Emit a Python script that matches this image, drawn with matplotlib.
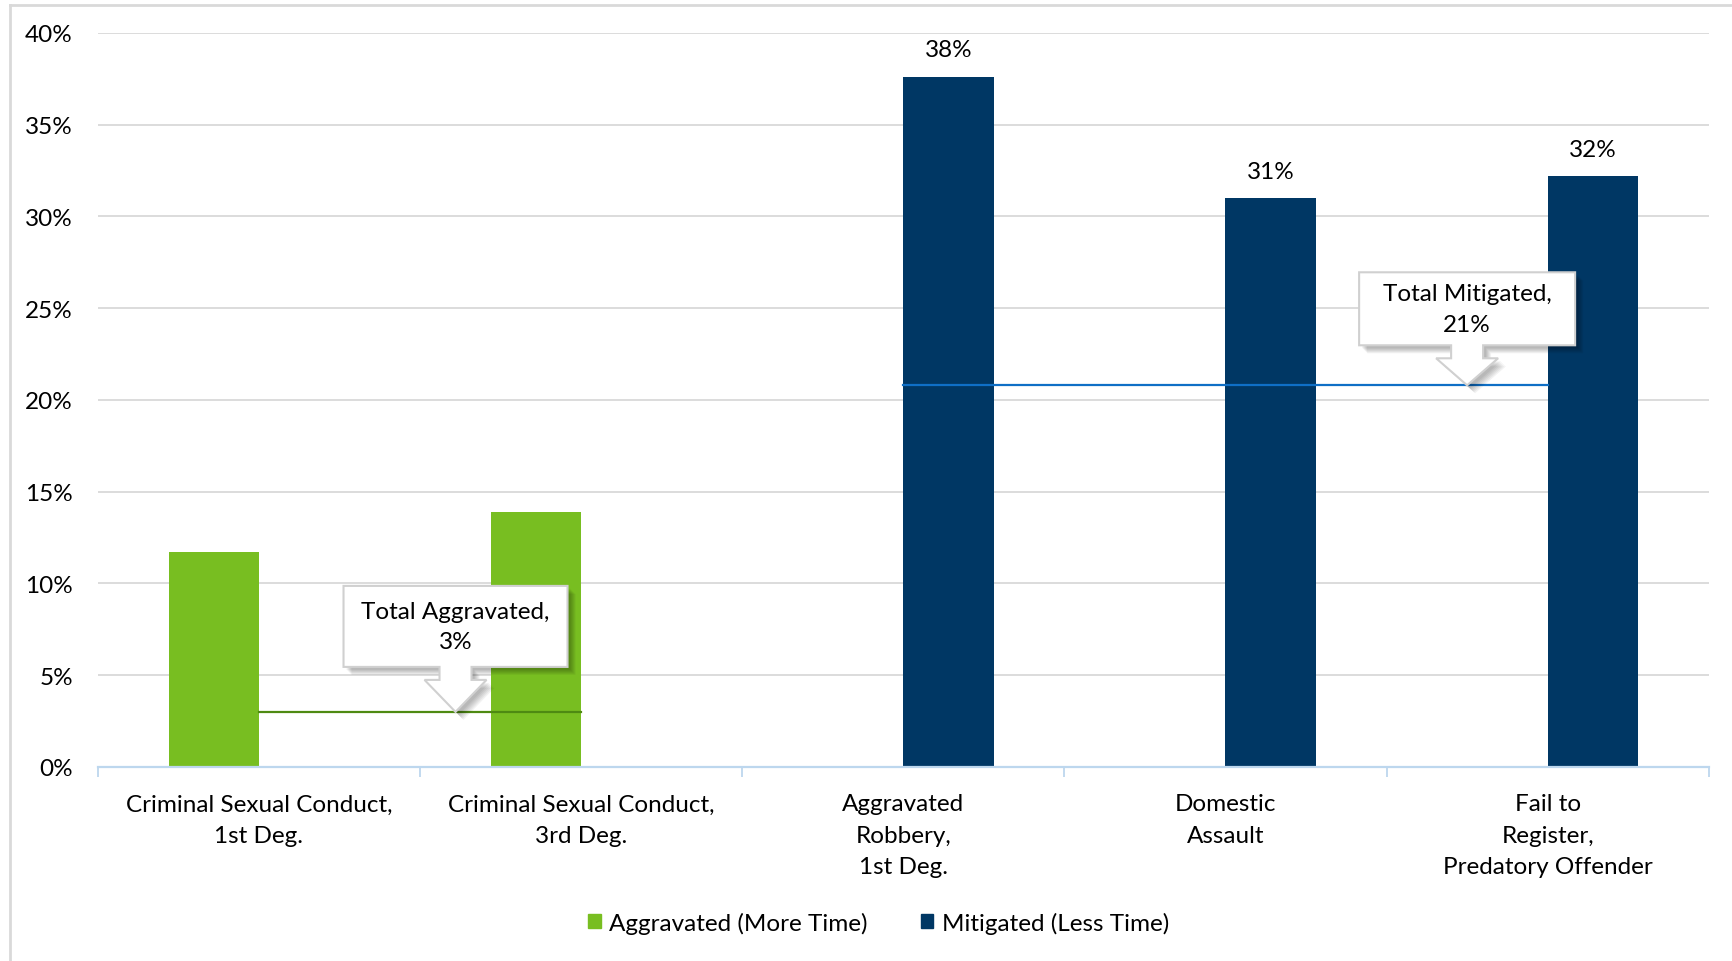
import numpy as np
import matplotlib.pyplot as plt
from matplotlib.patches import Polygon, Patch
from matplotlib.lines import Line2D

plt.rcParams['font.family'] = ['Lato', 'DejaVu Sans']

categories = ['Criminal Sexual Conduct,\n1st Deg.',
              'Criminal Sexual Conduct,\n3rd Deg.',
              'Aggravated\nRobbery,\n1st Deg.',
              'Domestic\nAssault',
              'Fail to\nRegister,\nPredatory Offender']
aggravated = [11.7, 13.9, 0, 0, 0]
mitigated = [0, 0, 37.6, 31.0, 32.2]
total_aggravated = 3.0
total_mitigated = 20.8

green = '#78BE21'
navy = '#003764'
fs = 17.5
x = np.arange(len(categories))
w = 0.28

fig = plt.figure(figsize=(17.33, 9.62), dpi=100)
ax = fig.add_axes([0.0565, 0.2017, 0.9295, 0.763])

ax.bar(x - w / 2, aggravated, w, color=green, zorder=2)
ax.bar(x + w / 2, mitigated, w, color=navy, zorder=2)

for xi, v in zip(x, mitigated):
    if v > 0:
        ax.text(xi + w / 2, v + 0.9, '%.0f%%' % v, ha='center', va='bottom', fontsize=fs)

# total lines across the categories of each group
ax.plot([0, 1], [total_aggravated] * 2, color='#4E8A12', lw=1.6, zorder=3)
ax.plot([2, 4], [total_mitigated] * 2, color='#0F6FC6', lw=1.6, zorder=3)

ax.set_xlim(-0.5, 4.5)
ax.set_ylim(0, 40)
ax.set_yticks(np.arange(0, 41, 5))
ax.set_yticklabels(['%d%%' % t for t in np.arange(0, 41, 5)], fontsize=fs)
ax.tick_params(axis='y', length=0, pad=18)
ax.grid(axis='y', color='#d9d9d9', lw=1.3, zorder=0)

ax.set_xticks(np.arange(-0.5, 5, 1))
ax.set_xticklabels([])
ax.set_xticks(x, minor=True)
ax.set_xticklabels(categories, minor=True, fontsize=fs, linespacing=1.62)
ax.tick_params(axis='x', which='major', length=7, width=1.3, color='#bdd7ee')
ax.tick_params(axis='x', which='minor', length=0, pad=19)

for s in ['top', 'right', 'left']:
    ax.spines[s].set_visible(False)
ax.spines['bottom'].set_color('#bdd7ee')
ax.spines['bottom'].set_linewidth(1.6)

# outer frame
fig.add_artist(Line2D([0.0058, 0.0058], [0, 0.9937], color='#d9d9d9', lw=2, transform=fig.transFigure))
fig.add_artist(Line2D([0.0058, 1], [0.9937, 0.9937], color='#d9d9d9', lw=2, transform=fig.transFigure))

fig.canvas.draw()


def callout(xtip, ytip, text, half_w, bot, top):
    tx, ty = ax.transData.transform((xtip, ytip))
    pts = [(-half_w, top), (half_w, top), (half_w, bot), (16, bot), (16, bot - 13),
           (31, bot - 13), (0, 0), (-31, bot - 13), (-16, bot - 13), (-16, bot), (-half_w, bot)]
    pts = np.array(pts, dtype=float)
    # soft shadow
    for k in range(6):
        off = 3 + k
        sh = Polygon(pts + [tx + off, ty - off], closed=True, facecolor='#000000',
                     alpha=0.05, edgecolor='none', transform=None, zorder=4)
        fig.add_artist(sh)
    box = Polygon(pts + [tx, ty], closed=True, facecolor='white', edgecolor='#d0d0d0',
                  lw=1.5, transform=None, zorder=5)
    fig.add_artist(box)
    fig.text(tx / fig.bbox.width, (ty + (bot + top) / 2) / fig.bbox.height, text,
             ha='center', va='center', fontsize=fs, linespacing=1.57, zorder=6)


callout(0.61, total_aggravated, 'Total Aggravated,\n%.0f%%' % total_aggravated, 112, 45, 126)
callout(3.75, total_mitigated, 'Total Mitigated,\n%.0f%%' % total_mitigated, 108, 40, 113)

handles = [Patch(color=green, label='Aggravated (More Time)'),
           Patch(color=navy, label='Mitigated (Less Time)')]
fig.legend(handles=handles, loc='center', bbox_to_anchor=(0.507, 0.04), ncol=2,
           frameon=False, fontsize=fs, handlelength=0.5, handleheight=0.5,
           handletextpad=0.35, columnspacing=2.2)

fig.savefig('out.png', dpi=100)
